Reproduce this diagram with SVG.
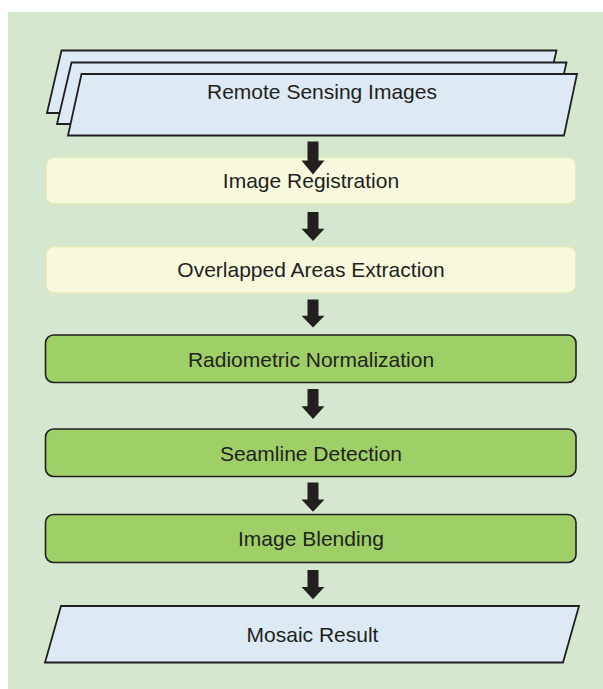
<svg xmlns="http://www.w3.org/2000/svg" width="603" height="689" viewBox="0 0 603 689">
<style>
.io{fill:#dde9f4;stroke:#231f20;stroke-width:1.8;stroke-linejoin:miter}
.pre{fill:#f8f8dc;stroke:#e1e8b4;stroke-width:1.5}
.core{fill:#9fcf67;stroke:#231f20;stroke-width:1.6}
.t{font-family:"Liberation Sans",Arial,Helvetica,sans-serif;font-size:21px;fill:#231f20;text-anchor:middle}
.arr{fill:#231f20}
</style>
<defs>
<path id="arrow" d="M-5.5,0 H5.5 V19 H11.5 L0,33 L-11.5,19 H-5.5 Z"/>
</defs>
<rect x="8" y="12" width="595" height="677" fill="#d5e8cf"/>
<g id="n1">
<polygon class="io" points="61.5,50.5 556.5,50.5 542,113 47,113"/>
<polygon class="io" points="71.5,62.5 566.5,62.5 552.5,124 57,124"/>
<polygon class="io" points="81.5,74 577,74 564,135.5 68,135.5"/>
<text class="t" x="322" y="99">Remote Sensing Images</text>
</g>
<g id="n2">
<rect class="pre" x="46" y="157.5" width="530" height="46.5" rx="8"/>
<text class="t" x="311" y="188">Image Registration</text>
</g>
<g id="n3">
<rect class="pre" x="46" y="246.5" width="530" height="46.5" rx="8"/>
<text class="t" x="311" y="277">Overlapped Areas Extraction</text>
</g>
<g id="n4">
<rect class="core" x="45.5" y="335" width="530.5" height="47.5" rx="8"/>
<text class="t" x="311" y="366.5">Radiometric Normalization</text>
</g>
<g id="n5">
<rect class="core" x="45.5" y="429" width="530.5" height="47.5" rx="8"/>
<text class="t" x="311" y="460.5">Seamline Detection</text>
</g>
<g id="n6">
<rect class="core" x="45.5" y="514.5" width="530.5" height="48" rx="8"/>
<text class="t" x="311" y="546">Image Blending</text>
</g>
<g id="n7">
<polygon class="io" points="61,606 579,606 563,662.5 45,662.5"/>
<text class="t" x="312.5" y="641.5">Mosaic Result</text>
</g>
<g id="connectors" class="arr">
<use href="#arrow" transform="translate(313,141.5)"/>
<use href="#arrow" transform="translate(313,212) scale(1,0.88)"/>
<use href="#arrow" transform="translate(313,299.5) scale(1,0.85)"/>
<use href="#arrow" transform="translate(313,389) scale(1,0.91)"/>
<use href="#arrow" transform="translate(313,482.5) scale(1,0.89)"/>
<use href="#arrow" transform="translate(313,570) scale(1,0.89)"/>
</g>
</svg>
